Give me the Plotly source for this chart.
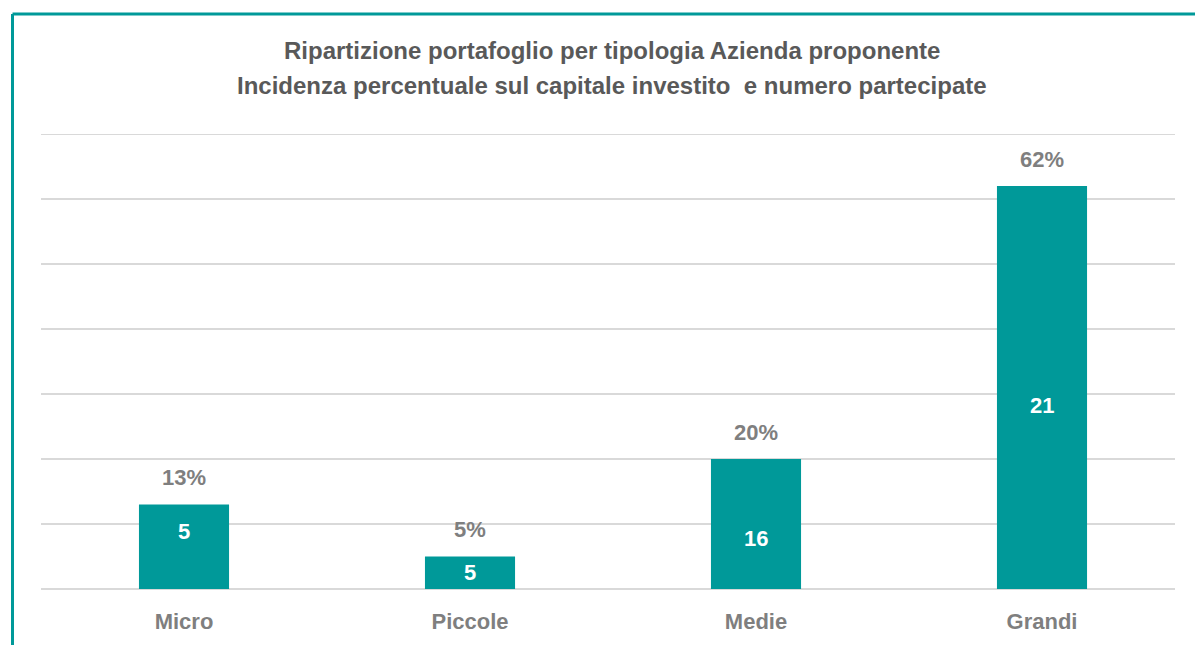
import plotly.graph_objects as go

categories = ["Micro", "Piccole", "Medie", "Grandi"]
pct_values = [13, 5, 20, 62]
count_values = [5, 5, 16, 21]
count_label_y = [8.9, 2.5, 7.8, 28.3]

title_lines = ["Ripartizione portafoglio per tipologia Azienda proponente",
               "Incidenza percentuale sul capitale investito  e numero partecipate"]

TEAL = "#009999"
LABEL_FONT = "Liberation Sans, Arial, sans-serif"
TITLE_FONT = "Liberation Sans, Arial, sans-serif"

# page offset (body margin) compensation
OFF = 8
W, H = 1203 - OFF, 645 - OFF
plot_top, plot_bottom, plot_left, plot_right = 134 - OFF, 589 - OFF, 41 - OFF, 1175 - OFF
ph = plot_bottom - plot_top
pw = plot_right - plot_left

fig = go.Figure()
fig.add_trace(go.Bar(
    x=categories, y=pct_values,
    marker=dict(color=TEAL, line=dict(width=0)),
    width=0.315,
    hoverinfo="skip",
))

for c, v in zip(categories, pct_values):
    fig.add_annotation(x=c, y=v, xref="x", yref="y", text=f"<b>{v}%</b>",
                       showarrow=False, yanchor="middle", yshift=27,
                       font=dict(family=LABEL_FONT, size=22, color="#7f7f7f"))

for c, n, yy in zip(categories, count_values, count_label_y):
    fig.add_annotation(x=c, y=yy, xref="x", yref="y", text=f"<b>{n}</b>",
                       showarrow=False, yanchor="middle",
                       font=dict(family=LABEL_FONT, size=22, color="white"))

for line, py in zip(title_lines, [50 - OFF, 86 - OFF]):
    fig.add_annotation(x=0.5, y=(plot_bottom - py) / ph, xref="paper", yref="paper",
                       xshift=4, text=f"<b>{line}</b>", showarrow=False,
                       xanchor="center", yanchor="middle",
                       font=dict(family=TITLE_FONT, size=24, color="#595959"))

# top gridline at the range end
fig.add_shape(type="line", xref="paper", yref="y", x0=0, x1=1, y0=70, y1=70,
              line=dict(color="#d9d9d9", width=2), layer="below")

# teal frame (top and left edges)
fy_top = (plot_bottom - (14 - OFF)) / ph
fx_left = ((12.5 - OFF) - plot_left) / pw
fig.add_shape(type="line", xref="paper", yref="paper",
              x0=fx_left, x1=(W + 10 - plot_left) / pw, y0=fy_top, y1=fy_top,
              line=dict(color=TEAL, width=3))
fig.add_shape(type="line", xref="paper", yref="paper",
              x0=fx_left, x1=fx_left, y0=fy_top, y1=(plot_bottom - (H + 10)) / ph,
              line=dict(color=TEAL, width=3))

fig.update_layout(
    width=W, height=H,
    margin=dict(l=plot_left, r=W - plot_right, t=plot_top, b=H - plot_bottom, autoexpand=False),
    plot_bgcolor="white", paper_bgcolor="white",
    showlegend=False,
    xaxis=dict(showgrid=False, showline=False, zeroline=False, ticks="",
               range=[-0.5, 3.465],
               tickfont=dict(family=LABEL_FONT, size=22, color="#7f7f7f"),
               ticklabelstandoff=17),
    yaxis=dict(range=[0, 70], dtick=10, showgrid=True, gridcolor="#d9d9d9",
               gridwidth=2, showticklabels=False, zeroline=True,
               zerolinecolor="#d9d9d9", zerolinewidth=2, showline=False),
)
fig.update_xaxes(tickvals=categories, ticktext=[f"<b>{c}</b>" for c in categories])

fig.write_html("out.html")
